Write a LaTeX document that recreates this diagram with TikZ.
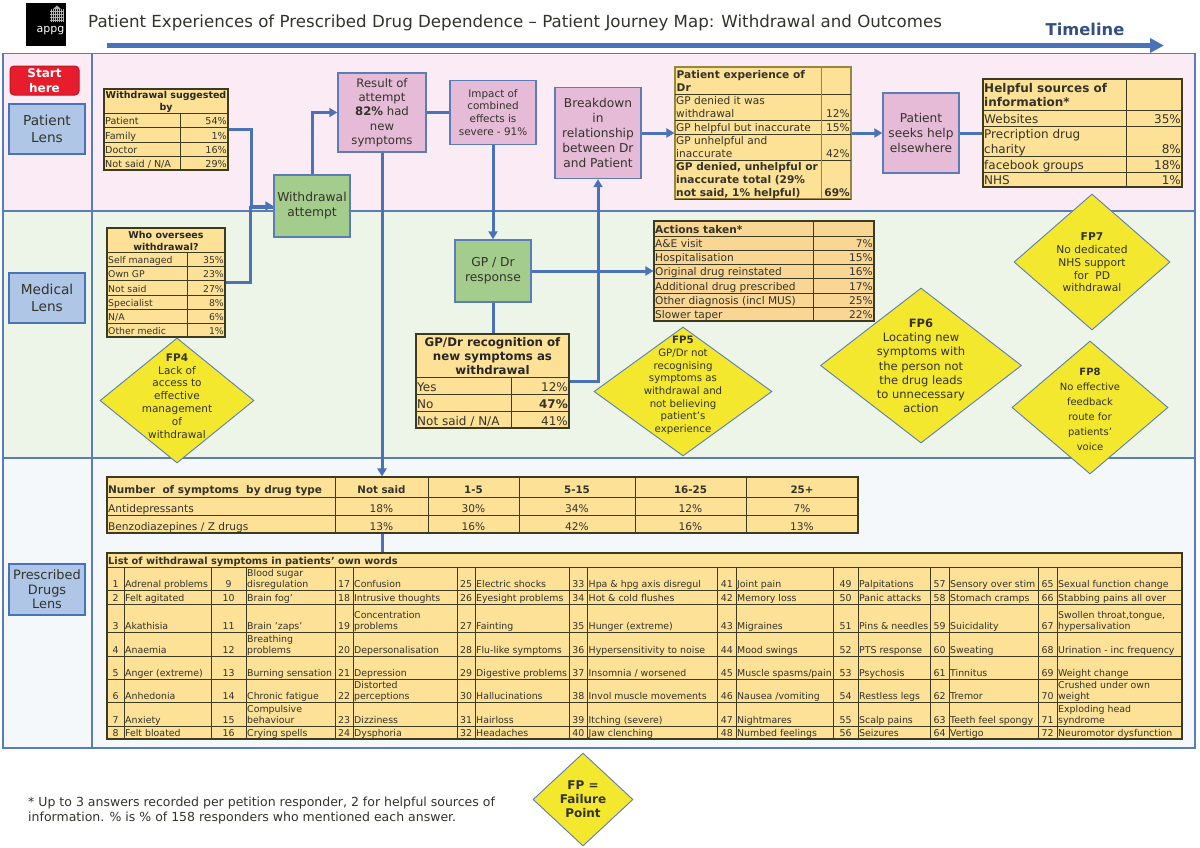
\documentclass[tikz,border=0pt]{standalone}
\usepackage{fontspec}
\setmainfont{DejaVu Sans}
\usetikzlibrary{arrows.meta,shapes.geometric}
\definecolor{lanepink}{HTML}{FBEBF5}
\definecolor{lanegreen}{HTML}{EDF5E8}
\definecolor{lanegrey}{HTML}{F5F8FB}
\definecolor{frameblue}{HTML}{5A7DB8}
\definecolor{flowblue}{HTML}{4A72B8}
\definecolor{lensfill}{HTML}{B0C6E6}
\definecolor{pinkfill}{HTML}{E6BBD8}
\definecolor{greenfill}{HTML}{A4CC8C}
\definecolor{tabfill}{HTML}{FDE197}
\definecolor{tabfilltwo}{HTML}{F9D694}
\definecolor{tabline}{HTML}{3D3A22}
\definecolor{tablinetwo}{HTML}{97863F}
\definecolor{failfill}{HTML}{F4E82E}
\definecolor{inktext}{HTML}{33332B}
\definecolor{startred}{HTML}{E71D2D}
\newcommand{\fsz}[2]{\fontsize{#1}{#2}\selectfont}
\newcommand{\tabrows}[6]{%
  \pgfmathsetmacro{\lsk}{#5*1.24}
  \foreach \yb/\lbl/\val [count=\i] in {#6} {
    \draw[tabrule] (#2,\yb) -- (#4,\yb);
    \node[celltext,font=\fsz{#5}{\lsk},anchor=south west] (#1L\i) at (#2+1,\yb) {\lbl};
    \node[celltext,font=\fsz{#5}{\lsk},anchor=south east] (#1V\i) at (#4-1,\yb) {\val};
  }
}
\newcommand{\symcol}[4]{%
  \foreach \lbl [count=\i from 0] in {#4} {
    \pgfmathsetmacro{\yb}{{590,604,632,656,679,702,726,739}[\i]}
    \pgfmathtruncatemacro{\num}{#3+\i}
    \node[celltext,font=\fsz{9.4}{11.7},anchor=south] (num\num) at (#1,\yb) {\num};
    \node[celltext,font=\fsz{9.4}{11.7},anchor=south west] (sym\num) at (#2,\yb) {\lbl};
  }
}
\begin{document}
\begin{tikzpicture}[x=1pt,y=-1pt,
  framerule/.style={draw=frameblue,line width=1.7pt},
  flow/.style={draw=flowblue,line width=3pt},
  flowtip/.style={flow,-{Triangle[length=8pt,width=9pt]}},
  lensbox/.style={draw=flowblue,line width=1.2pt,fill=lensfill,align=center,text=inktext,minimum width=76pt,minimum height=50pt,inner sep=0pt},
  pinkbox/.style={draw=frameblue,line width=1.4pt,fill=pinkfill,align=center,text=inktext,inner sep=0pt},
  greenbox/.style={draw=frameblue,line width=1.4pt,fill=greenfill,align=center,text=inktext,inner sep=0pt,minimum width=76pt,minimum height=62pt,font=\fsz{12.3}{14.8}},
  tabbox/.style={draw=tabline,line width=1.1pt,fill=tabfill,inner sep=0pt},
  tabrule/.style={draw=tabline,line width=0.9pt},
  celltext/.style={inner sep=0pt,text depth=2pt,align=left,text=inktext},
  headtext/.style={inner sep=0pt,align=center,text=black!85},
  failpt/.style={diamond,draw=frameblue,line width=0.9pt,fill=failfill,inner sep=0pt},
  failtext/.style={inner sep=0pt,align=center,text=inktext}]
\useasboundingbox (0,0) rectangle (1200,847);
\fill[white] (0,0) rectangle (1200,847);
\fill[lanepink] (3,53.5) rectangle (1195,211);
\fill[lanegreen] (3,211) rectangle (1195,458);
\fill[lanegrey] (3,458) rectangle (1195,748);
\draw[framerule] (3,53.5) rectangle (1195,748);
\draw[framerule] (92,53.5) -- (92,748);
\draw[framerule] (3,211) -- (1195,211);
\draw[framerule] (3,458) -- (1195,458);
\node[fill=black,minimum width=40pt,minimum height=43pt,inner sep=0pt] (logo) at (46,24.5) {};
\foreach \xa in {51,53,55,57,59,61,63}
  \draw[black!30,line width=1pt] (\xa,9) -- (\xa,22);
\foreach \ya in {11,14,17,20}
  \draw[black!30,line width=1pt] (50,\ya) -- (64,\ya);
\fill[black!30] (53,9) -- (57,5.5) -- (61,9) -- cycle;
\node[inner sep=0pt,text=white,font=\fsz{11}{13}] (logotext) at (50.5,30.5) {appg};
\node[inner sep=0pt,anchor=west,text=inktext,font=\fsz{16.65}{20}] (title) at (88,22.5) {Patient Experiences of Prescribed Drug Dependence – Patient Journey Map: Withdrawal and Outcomes};
\node[inner sep=0pt,text=flowblue!70!black,font=\fsz{16.3}{19}\bfseries] (timeline) at (1085,29) {Timeline};
\coordinate (timestart) at (107,45.5);
\coordinate (timeend) at (1164,45.5);
\draw[flow,line width=4.3pt,-{Triangle[length=14pt,width=14pt]}] (timestart) -- (timeend);
\node[draw=startred!80!black,line width=1pt,fill=startred,rounded corners=4pt,minimum width=69pt,minimum height=29pt,inner sep=0pt,align=center,text=white,font=\fsz{12}{14.7}\bfseries] (starthere) at (44.5,80.5) {Start\\here};
\node[lensbox,font=\fsz{13.7}{17}] (patientlens) at (47,129) {Patient\\Lens};
\node[lensbox,font=\fsz{13.7}{17}] (medicallens) at (47,298) {Medical\\Lens};
\node[lensbox,font=\fsz{12.9}{14.6},minimum height=51pt] (drugslens) at (47,589.5) {Prescribed\\Drugs\\Lens};
\node[greenbox] (attempt) at (312,206) {Withdrawal\\attempt};
\node[pinkbox,minimum width=88pt,minimum height=79pt,font=\fsz{11.7}{14.3}] (result) at (382,112.5) {Result of\\attempt\\\textbf{82\%} had\\new\\symptoms};
\node[pinkbox,minimum width=86pt,minimum height=64pt,font=\fsz{10.4}{12.8}] (impact) at (493,112.5) {Impact of\\combined\\effects is\\severe - 91\%};
\node[pinkbox,minimum width=86pt,minimum height=91pt,font=\fsz{12.2}{14.8}] (breakdown) at (598,133) {Breakdown\\in\\relationship\\between Dr\\and Patient};
\node[pinkbox,minimum width=76pt,minimum height=80pt,font=\fsz{12.2}{15}] (seekshelp) at (921,133) {Patient\\seeks help\\elsewhere};
\node[greenbox] (gpresponse) at (493,271) {GP / Dr\\response};
\node[tabbox,minimum width=124pt,minimum height=81pt] (tabSuggest) at (166,129.5) {};
\node[headtext,font=\fsz{9.5}{11.7}\bfseries] (headSuggest) at (166,102) {Withdrawal suggested\\by};
\tabrows{tabSuggest}{104}{180}{228}{9.6}{113//,127/Patient/54\%,142/Family/1\%,156/Doctor/16\%,170/{Not said / N/A}/29\%}
\draw[tabrule] (180,113) -- (180,170);
\node[tabbox,minimum width=118pt,minimum height=109pt] (tabOversee) at (166,282.5) {};
\node[headtext,font=\fsz{9.5}{11.7}\bfseries] (headOversee) at (166,241) {Who oversees\\withdrawal?};
\tabrows{tabOversee}{107}{187}{225}{9.3}{252//,266/Self managed/35\%,280/Own GP/23\%,295/Not said/27\%,309/Specialist/8\%,323/N\slash A/6\%,337/Other medic/1\%}
\draw[tabrule] (187,252) -- (187,337);
\node[tabbox,draw=tablinetwo,minimum width=176pt,minimum height=132pt] (tabExperience) at (763,133) {};
\node[celltext,font=\fsz{10.6}{13}\bfseries,anchor=south west] (headExperience) at (676.5,94) {\textbf{Patient experience of}\\\textbf{Dr}};
\tabrows{tabExperience}{675}{821}{851}{10.6}{94//,120/{GP denied it was\\withdrawal}/12\%,134/GP helpful but inaccurate/15\%,160/{GP unhelpful and\\inaccurate}/42\%,199/{\textbf{GP denied, unhelpful or}\\\textbf{inaccurate total (29\%}\\\textbf{not said, 1\% helpful)}}/\textbf{69\%}}
\draw[tabrule,draw=tablinetwo] (821,67) -- (821,199);
\node[tabbox,minimum width=199pt,minimum height=108pt] (tabHelpful) at (1082.5,133) {};
\node[celltext,font=\fsz{12}{14.7},anchor=south west,text depth=3pt] (headHelpful) at (984,110) {\textbf{Helpful sources of}\\\textbf{information*}};
\tabrows{tabHelpful}{983}{1126}{1182}{12}{110//,126/Websites/35\%,156/{Precription drug\\charity}/8\%,172/facebook groups/18\%,187/NHS/1\%}
\draw[tabrule] (1126,79) -- (1126,187);
\node[tabbox,fill=tabfilltwo,minimum width=220pt,minimum height=100pt] (tabActions) at (764,271) {};
\node[celltext,font=\fsz{10.6}{13},anchor=south west] (headActions) at (655,236) {\textbf{Actions taken*}};
\tabrows{tabActions}{654}{813}{874}{10.6}{236//,250/A\&E visit/7\%,264/Hospitalisation/15\%,278/Original drug reinstated/16\%,293/Additional drug prescribed/17\%,307/Other diagnosis (incl MUS)/25\%,321/Slower taper/22\%}
\draw[tabrule] (813,221) -- (813,321);
\node[tabbox,minimum width=153pt,minimum height=94pt] (tabRecog) at (492.5,381) {};
\node[headtext,font=\fsz{11.8}{14.2}\bfseries] (headRecog) at (492.5,356) {GP/Dr recognition of\\new symptoms as\\withdrawal};
\tabrows{tabRecog}{416}{511}{569}{12}{377//,394/Yes/12\%,411/No/\textbf{47\%},428/{Not said / N/A}/41\%}
\draw[tabrule] (511,377) -- (511,428);
\node[failpt,minimum width=154pt,minimum height=125pt] (fp4) at (177,400.5) {};
\node[failtext,font=\fsz{10.5}{12.8}] (fp4text) at (177,396) {\textbf{FP4}\\Lack of\\access to\\effective\\management\\of\\withdrawal};
\node[failpt,minimum width=178pt,minimum height=129pt] (fp5) at (683,391.5) {};
\node[failtext,font=\fsz{10.2}{12.7}] (fp5text) at (683,385.5) {\textbf{FP5}\\GP/Dr not\\recognising\\symptoms as\\withdrawal and\\not believing\\patient's\\experience};
\node[failpt,minimum width=201pt,minimum height=155pt] (fp6) at (921,365.5) {};
\node[failtext,font=\fsz{11.5}{14.2}] (fp6text) at (921,366) {\textbf{FP6}\\Locating new\\symptoms with\\the person not\\the drug leads\\to unnecessary\\action};
\node[failpt,minimum width=156pt,minimum height=136pt] (fp7) at (1092,262) {};
\node[failtext,font=\fsz{10.7}{12.8}] (fp7text) at (1092,262.5) {\textbf{FP7}\\No dedicated\\NHS support\\for\ \ PD\\withdrawal};
\node[failpt,minimum width=156pt,minimum height=133pt] (fp8) at (1090,407.5) {};
\node[failtext,font=\fsz{10}{14.9}] (fp8text) at (1090,409.5) {\textbf{FP8}\\No effective\\feedback\\route for\\patients'\\voice};
\node[tabbox,minimum width=751pt,minimum height=56pt] (tabNumber) at (482.5,505) {};
\node[celltext,font=\fsz{10.5}{13},anchor=south west,text depth=3pt] (headNumber) at (108,497) {\textbf{Number\ \ of symptoms\ \ by drug type}};
\node[celltext,font=\fsz{10.6}{13},anchor=south west] (rowAnti) at (108,515) {Antidepressants};
\node[celltext,font=\fsz{10.6}{13},anchor=south west] (rowBenzo) at (108,533) {Benzodiazepines / Z drugs};
\draw[tabrule] (107,497) -- (858,497);
\draw[tabrule] (107,515) -- (858,515);
\foreach \xr in {335,428,519,635,746}
  \draw[tabrule] (\xr,477) -- (\xr,533);
\foreach \cx/\head/\anti/\benzo [count=\i] in {381.5/Not said/18\%/13\%,473.5/1-5/30\%/16\%,577/5-15/34\%/42\%,690.5/16-25/12\%/16\%,802/25+/7\%/13\%} {
  \node[celltext,font=\fsz{10.3}{13},anchor=south,text depth=3pt] (numHead\i) at (\cx,497) {\textbf{\head}};
  \node[celltext,font=\fsz{10.6}{13},anchor=south] (numAnti\i) at (\cx,515) {\anti};
  \node[celltext,font=\fsz{10.6}{13},anchor=south] (numBenzo\i) at (\cx,533) {\benzo};
}
\node[tabbox,minimum width=1075pt,minimum height=186pt] (tabSymptoms) at (644.5,646) {};
\node[celltext,font=\fsz{9.8}{12},anchor=south west] (headSymptoms) at (108,567) {\textbf{List of withdrawal symptoms in patients' own words}};
\foreach \yr in {567,590,604,632,656,679,702,726}
  \draw[tabrule] (107,\yr) -- (1182,\yr);
\foreach \xr in {124,211,246,335,353,457,475,569,587.5,717.5,736,833,858,930,949,1038,1057}
  \draw[tabrule] (\xr,567) -- (\xr,739);
\symcol{115.5}{125}{1}{Adrenal problems,Felt agitated,Akathisia,Anaemia,Anger (extreme),Anhedonia,Anxiety,Felt bloated}
\symcol{228.5}{247}{9}{Blood sugar\\disregulation,Brain fog',Brain 'zaps',Breathing\\problems,Burning sensation,Chronic fatigue,Compulsive\\behaviour,Crying spells}
\symcol{344}{354}{17}{Confusion,Intrusive thoughts,Concentration\\problems,Depersonalisation,Depression,Distorted\\perceptions,Dizziness,Dysphoria}
\symcol{466}{476}{25}{Electric shocks,Eyesight problems,Fainting,Flu-like symptoms,Digestive problems,Hallucinations,Hairloss,Headaches}
\symcol{578.3}{588.5}{33}{Hpa \& hpg axis disregul,Hot \& cold flushes,Hunger (extreme),Hypersensitivity to noise,Insomnia / worsened,Invol muscle movements,Itching (severe),Jaw clenching}
\symcol{726.8}{737}{41}{Joint pain,Memory loss,Migraines,Mood swings,Muscle spasms/pain,Nausea /vomiting,Nightmares,Numbed feelings}
\symcol{845.5}{859}{49}{Palpitations,Panic attacks,Pins \& needles,PTS response,Psychosis,Restless legs,Scalp pains,Seizures}
\symcol{939.5}{950}{57}{Sensory over stim,Stomach cramps,Suicidality,Sweating,Tinnitus,Tremor,Teeth feel spongy,Vertigo}
\symcol{1047.5}{1058}{65}{Sexual function change,Stabbing pains all over,{Swollen throat,tongue,\\hypersalivation},Urination - inc frequency,Weight change,Crushed under own\\weight,Exploding head\\syndrome,Neuromotor dysfunction}
\node[failpt,minimum width=100pt,minimum height=93pt] (fplegend) at (583,799.5) {};
\node[failtext,font=\fsz{12}{14}\bfseries] (fplegendtext) at (583,799) {FP =\\Failure\\Point};
\node[inner sep=0pt,anchor=west,align=left,text=inktext,font=\fsz{12.5}{15.3}] (footnote) at (28,810.5) {* Up to 3 answers recorded per petition responder, 2 for helpful sources of\\information. \% is \% of 158 responders who mentioned each answer.};
\draw[flowtip] (tabSuggest.east) -- ++(23,0) |- (attempt.west);
\draw[flow] (tabOversee.east) -- ++(24.5,0) |- ([yshift=-1.5pt]attempt.west);
\draw[flowtip] (attempt.north) |- (result.west);
\draw[flow] (result.east) -- (impact.west);
\draw[flowtip] (result.south) -- (result.south |- tabNumber.north);
\draw[flow] (result.south |- tabNumber.south) -- (result.south |- tabSymptoms.north);
\draw[flowtip] (impact.south) -- (gpresponse.north);
\draw[flowtip] (gpresponse.east) -- (tabActions.west);
\draw[flow] (gpresponse.south) -- (gpresponse.south |- tabRecog.north);
\draw[flowtip] (tabRecog.east) -| (breakdown.south);
\draw[flowtip] (breakdown.east) -- (tabExperience.west);
\draw[flowtip] (tabExperience.east) -- (seekshelp.west);
\draw[flow] (seekshelp.east) -- (tabHelpful.west);
\end{tikzpicture}
\end{document}
